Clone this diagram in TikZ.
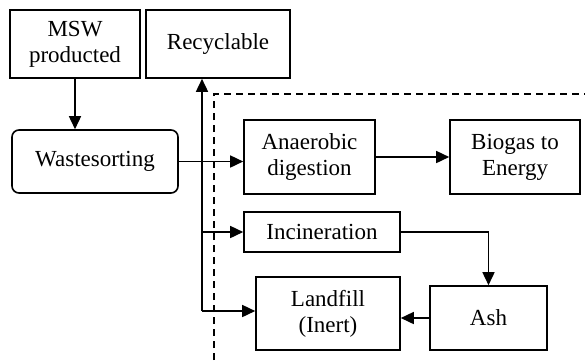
\documentclass[tikz,border=0pt]{standalone}
\usepackage{fontspec}
\setmainfont{Liberation Serif}
\usetikzlibrary{arrows.meta}

\begin{document}
\begin{tikzpicture}[
    x=1pt, y=-1pt,
    font=\fontsize{23}{26}\selectfont,
    box/.style={rectangle, draw=black, line width=1.6pt, align=center, inner sep=0pt},
    sortbox/.style={box, rounded corners=7pt},
    arrow/.style={line width=1.6pt, -{Triangle[length=13pt, width=12pt]}},
    border/.style={line width=1.3pt, dashed, dash pattern=on 7pt off 5pt}
    ]
    \useasboundingbox (0,0) rectangle (585,360);

    % Sources
    \node (msw) [box, minimum width=130pt, minimum height=68pt] at (75,44) {MSW\\producted};
    \node (recyc) [box, minimum width=144pt, minimum height=68pt] at (218,44) {Recyclable};
    \node (sorting) [sortbox, minimum width=166pt, minimum height=63pt] at (95,161.5) {Wastesorting};

    % Treatment
    \node (anaer) [box, minimum width=131pt, minimum height=74pt] at (309.5,157) {Anaerobic\\digestion};
    \node (biogas) [box, minimum width=130pt, minimum height=74pt] at (515,157) {Biogas to\\Energy};
    \node (incin) [box, minimum width=156pt, minimum height=40pt] at (322,232) {Incineration};
    \node (landfill) [box, minimum width=144pt, minimum height=73pt] at (328,313.5) {Landfill\\(Inert)};
    \node (ash) [box, minimum width=117pt, minimum height=64pt] at (488.5,318) {Ash};

    % Dashed border
    \coordinate (dcorner) at (214,94);
    \draw [border] (214,360) -- (dcorner) -- (585,94);

    % Arrows
    \coordinate (trunk) at (202,311);
    \draw [arrow] (msw) -- (msw |- sorting.north);
    \draw [arrow] (sorting.east) -- (sorting.east -| anaer.west);
    \draw [arrow] (anaer.east) -- (anaer.east -| biogas.west);
    \draw [arrow] (trunk) -- (trunk |- recyc.south);
    \draw [arrow] (trunk |- incin.west) -- (incin.west);
    \draw [arrow] (trunk) -- (trunk -| landfill.west);
    \draw [arrow] (incin.east) -| (ash.north);
    \draw [arrow] (ash.west) -- (ash.west -| landfill.east);

\end{tikzpicture}
\end{document}
